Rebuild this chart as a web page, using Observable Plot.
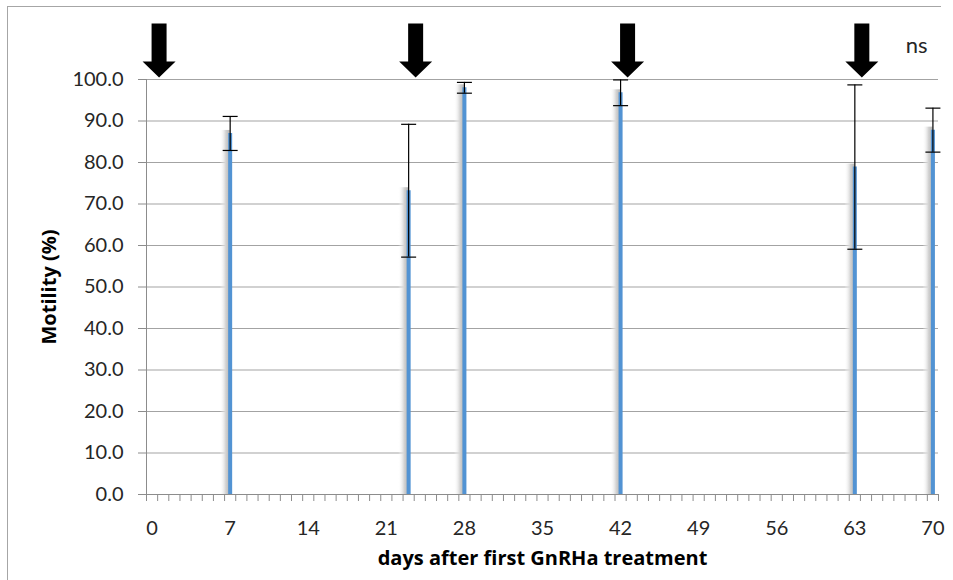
<!DOCTYPE html>
<html><head><meta charset="utf-8">
<script src="https://cdn.jsdelivr.net/npm/d3@7"></script>
<script src="https://cdn.jsdelivr.net/npm/@observablehq/plot@0.6"></script>
<style>
html,body{margin:0;padding:0;background:#fff;overflow:hidden;}
#wrap{position:relative;width:953px;height:580px;}
#border{position:absolute;left:7px;top:6px;width:933px;height:600px;border-left:1px solid #a6a6a6;border-top:1px solid #a6a6a6;}
#chart{position:absolute;left:0;top:0;}
</style></head><body>
<svg width="0" height="0" style="position:absolute"><defs>
<linearGradient id="shadowGrad" x1="0" x2="1" y1="0" y2="0">
<stop offset="0" stop-color="#ffffff" stop-opacity="0"/>
<stop offset="0.6" stop-color="#d4d4d4" stop-opacity="1"/>
<stop offset="1" stop-color="#b4b4b4" stop-opacity="1"/>
</linearGradient></defs></svg>
<div id="wrap"><div id="border"></div><div id="chart"></div></div>
<script>
// data
const days = [7, 23, 28, 42, 63, 70];
const motility = [87.0, 73.2, 98.0, 96.8, 78.9, 87.8];
const errors = [4.1, 16.0, 1.3, 3.1, 19.8, 5.3];
const treatmentDays = [0, 23, 42, 63];
const xTickLabels = [0, 7, 14, 21, 28, 35, 42, 49, 56, 63, 70];
const yTickValues = [0, 10, 20, 30, 40, 50, 60, 70, 80, 90, 100];
const xTitle = "days after first GnRHa treatment";
const yTitle = "Motility (%)";
const note = "ns";

const data = days.map((d, i) => ({day: d, value: motility[i], err: errors[i]}));
const minorTicks = d3.range(-0.5, 71, 1);

const capSymbol = {draw(ctx) { ctx.moveTo(-7.5, 0); ctx.lineTo(7.5, 0); }};
const arrowSymbol = {draw(ctx) {
  ctx.moveTo(-7.5, -54); ctx.lineTo(7.5, -54); ctx.lineTo(7.5, -16);
  ctx.lineTo(16.5, -16); ctx.lineTo(0, 0); ctx.lineTo(-16.5, -16);
  ctx.lineTo(-7.5, -16); ctx.closePath();
}};

const axisColor = "#8c8c8c";
const gridColor = "#a3a3a3";
const titleFont = "'Open Sans', Lato, sans-serif";

const chart = Plot.plot({
  width: 953,
  height: 580,
  marginLeft: 146,
  marginRight: 15,
  marginTop: 79,
  marginBottom: 86,
  style: {fontFamily: "Lato, 'Open Sans', sans-serif", fontSize: "20px", color: "#262626", background: "transparent"},
  x: {domain: [-0.5, 70.5]},
  y: {domain: [0, 100]},
  marks: [
    Plot.gridY(yTickValues.slice(1), {stroke: gridColor, strokeOpacity: 1}),
    Plot.rect(data, {x1: "day", x2: "day", y1: 0, y2: "value", insetLeft: -10, insetTop: -3, fill: "url(#shadowGrad)"}),
    Plot.ruleX(data, {x: "day", y1: 0, y2: "value", stroke: "#5293d3", strokeWidth: 4}),
    Plot.ruleX(data, {x: "day", y1: d => d.value - d.err, y2: d => d.value + d.err, stroke: "#000", strokeWidth: 1.2}),
    Plot.dot(data, {x: "day", y: d => d.value + d.err, symbol: capSymbol, stroke: "#000", fill: "none", strokeWidth: 1.2}),
    Plot.dot(data, {x: "day", y: d => d.value - d.err, symbol: capSymbol, stroke: "#000", fill: "none", strokeWidth: 1.2}),
    Plot.ruleY([0], {stroke: axisColor}),
    Plot.ruleX([-0.5], {y1: 0, y2: 100, stroke: axisColor}),
    Plot.axisY({ticks: yTickValues, tickFormat: d => d.toFixed(1), tickSize: 8, tickPadding: 15, stroke: axisColor, label: null, fontSize: 20}),
    Plot.axisX({ticks: minorTicks, tickSize: 7, tickFormat: () => "", stroke: axisColor, label: null}),
    Plot.axisX({ticks: xTickLabels, tickSize: 0, tickPadding: 26, label: null, fontSize: 20}),
    Plot.dot(treatmentDays, {x: d => d, y: 100, dx: 7, dy: -2, symbol: arrowSymbol, fill: "#000", stroke: "none"}),
    Plot.text([note], {frameAnchor: "top-right", dx: -11, dy: -42, fontSize: 22, fill: "#262626"}),
    Plot.text([xTitle], {frameAnchor: "bottom", dy: 64, lineAnchor: "middle", fontWeight: "bold", fontSize: 20, fontFamily: titleFont, fill: "#000"}),
    Plot.text([yTitle], {frameAnchor: "left", dx: -97, rotate: -90, textAnchor: "middle", lineAnchor: "middle", fontWeight: "bold", fontSize: 20, fontFamily: titleFont, fill: "#000"})
  ]
});
document.getElementById("chart").appendChild(chart);
</script>
</body></html>
